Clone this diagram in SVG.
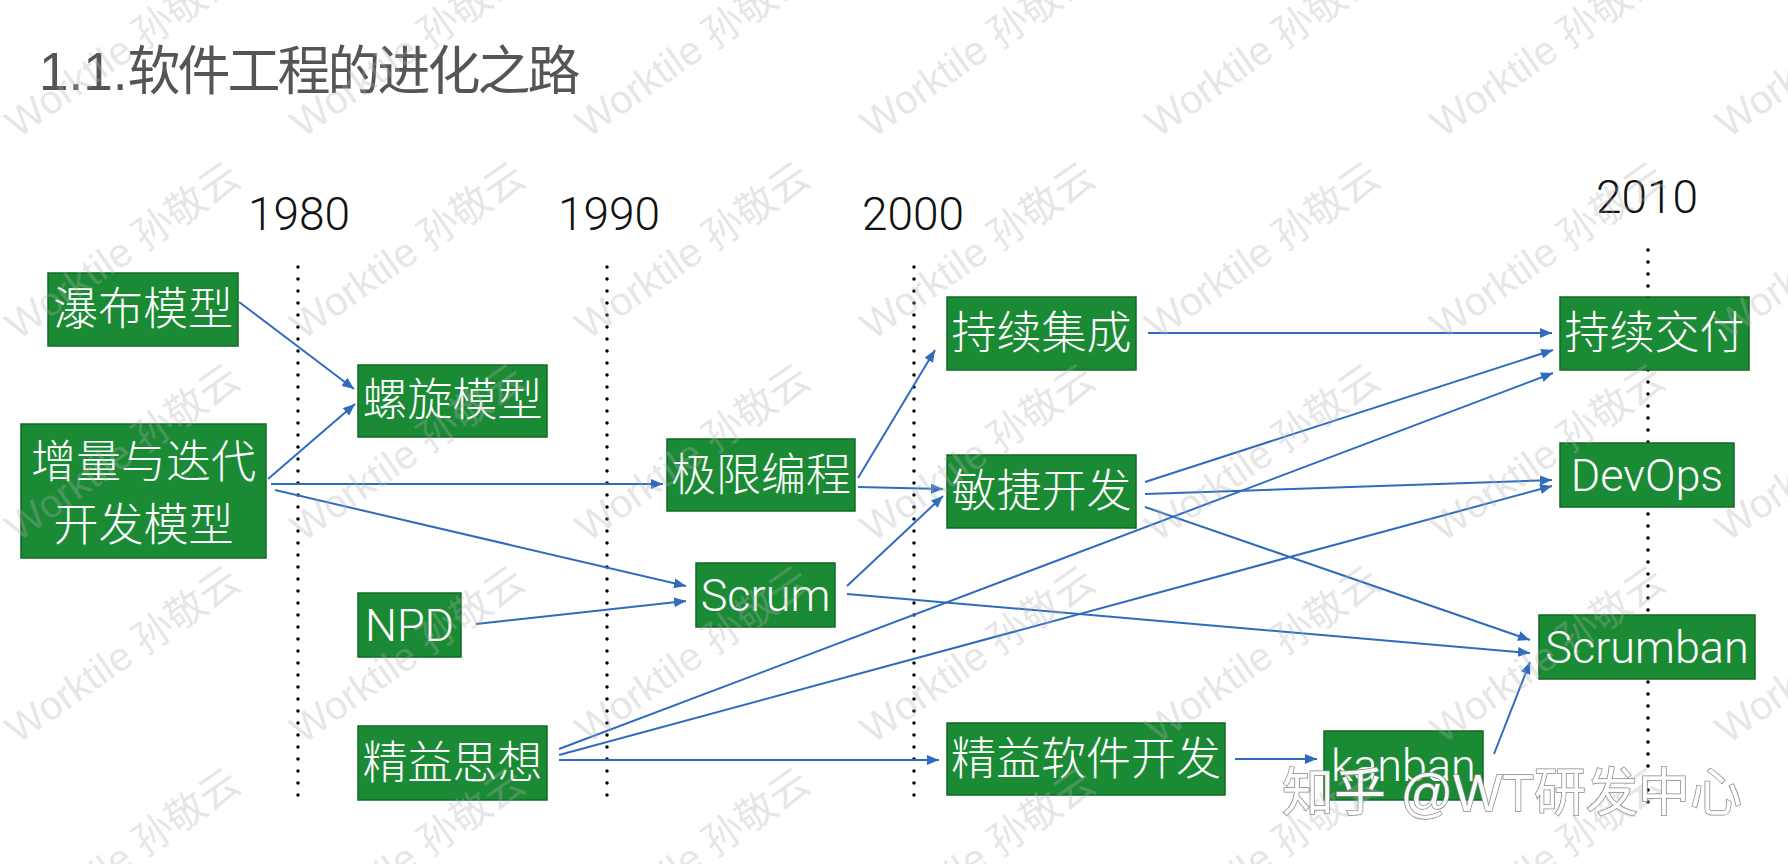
<svg xmlns="http://www.w3.org/2000/svg" width="1788" height="864" viewBox="0 0 1788 864">
<style>
.title{font-family:"Liberation Sans","Noto Sans CJK SC",sans-serif;font-weight:400;font-size:53px;fill:#555}
.year{font-family:Roboto,"Liberation Sans",sans-serif;font-weight:300;font-size:46px;fill:#111;text-anchor:middle}
.box{fill:#1b8a35;stroke:#116a25;stroke-width:1.5}
.lbl{font-family:Roboto,"Noto Sans CJK SC",sans-serif;font-weight:300;font-size:45px;fill:#fff;text-anchor:middle}
.dot{stroke:#000;stroke-width:3.5;stroke-linecap:round;stroke-dasharray:0 12;fill:none}
.edge{stroke:#2f6cbf;stroke-width:2;fill:none;marker-end:url(#ah)}
.wm{font-family:"Liberation Sans","Noto Sans CJK SC",sans-serif;font-size:40px;fill:#b0b0b0;fill-opacity:0.32;text-anchor:end}
</style>
<defs>
<marker id="ah" viewBox="0 0 12 10" refX="12" refY="5" markerWidth="12" markerHeight="10" orient="auto" markerUnits="userSpaceOnUse">
<path d="M0,0 L12,5 L0,10 z" fill="#2f6cbf"/>
</marker>
</defs>
<rect width="1788" height="864" fill="#fff"/>
<text class="title" x="39" y="90">1.1.<tspan letter-spacing="-3">软件工程的进化之路</tspan></text>
<g id="timeline">
<text class="year" x="299" y="230">1980</text>
<text class="year" x="609" y="230">1990</text>
<text class="year" x="913" y="230">2000</text>
<text class="year" x="1647" y="213">2010</text>
<line class="dot" x1="298" y1="267" x2="298" y2="800"/>
<line class="dot" x1="607" y1="267" x2="607" y2="800"/>
<line class="dot" x1="914" y1="267" x2="914" y2="800"/>
<line class="dot" x1="1648" y1="250" x2="1648" y2="812"/>
</g>
<g id="connectors">
<line class="edge" x1="239" y1="302" x2="354" y2="389"/>
<line class="edge" x1="268" y1="479" x2="355" y2="404"/>
<line class="edge" x1="271" y1="484" x2="663" y2="484"/>
<line class="edge" x1="275" y1="490" x2="686" y2="586"/>
<line class="edge" x1="476" y1="624" x2="686" y2="601"/>
<line class="edge" x1="858" y1="478" x2="935" y2="350"/>
<line class="edge" x1="858" y1="487" x2="943" y2="489"/>
<line class="edge" x1="847" y1="586" x2="943" y2="496"/>
<line class="edge" x1="847" y1="594" x2="1530" y2="653"/>
<line class="edge" x1="1148" y1="333" x2="1552" y2="333"/>
<line class="edge" x1="1145" y1="482" x2="1553" y2="350"/>
<line class="edge" x1="1145" y1="494" x2="1552" y2="480"/>
<line class="edge" x1="1145" y1="507" x2="1530" y2="640"/>
<line class="edge" x1="559" y1="749" x2="1553" y2="373"/>
<line class="edge" x1="559" y1="755" x2="1552" y2="486"/>
<line class="edge" x1="559" y1="760" x2="939" y2="760"/>
<line class="edge" x1="1235" y1="759" x2="1317" y2="759"/>
<line class="edge" x1="1494" y1="754" x2="1530" y2="662"/>
</g>
<g id="n_waterfall"><rect class="box" x="48" y="273" width="190" height="73"/><text class="lbl" x="143" y="325">瀑布模型</text></g>
<g id="n_spiral"><rect class="box" x="358" y="365" width="189" height="72"/><text class="lbl" x="452.5" y="416">螺旋模型</text></g>
<g id="n_incremental"><rect class="box" x="21" y="424" width="245" height="134"/><text class="lbl" x="143.5" y="478">增量与迭代</text><text class="lbl" x="143.5" y="541">开发模型</text></g>
<g id="n_npd"><rect class="box" x="358" y="593" width="103" height="64"/><text class="lbl" x="409.5" y="641">NPD</text></g>
<g id="n_lean"><rect class="box" x="358" y="726" width="189" height="74"/><text class="lbl" x="452.5" y="779">精益思想</text></g>
<g id="n_xp"><rect class="box" x="667" y="439" width="188" height="72"/><text class="lbl" x="761" y="491">极限编程</text></g>
<g id="n_scrum"><rect class="box" x="696" y="563" width="139" height="64"/><text class="lbl" x="765.5" y="611">Scrum</text></g>
<g id="n_ci"><rect class="box" x="947" y="297" width="189" height="73"/><text class="lbl" x="1041.5" y="349">持续集成</text></g>
<g id="n_agile"><rect class="box" x="947" y="455" width="189" height="73"/><text class="lbl" x="1041.5" y="507">敏捷开发</text></g>
<g id="n_lsd"><rect class="box" x="947" y="723" width="278" height="72"/><text class="lbl" x="1086" y="775">精益软件开发</text></g>
<g id="n_kanban"><rect class="box" x="1324" y="731" width="159" height="69"/><text class="lbl" x="1403.5" y="781">kanban</text></g>
<g id="n_cd"><rect class="box" x="1560" y="297" width="189" height="73"/><text class="lbl" x="1654.5" y="349">持续交付</text></g>
<g id="n_devops"><rect class="box" x="1560" y="443" width="174" height="64"/><text class="lbl" x="1647" y="491">DevOps</text></g>
<g id="n_scrumban"><rect class="box" x="1539" y="615" width="216" height="64"/><text class="lbl" x="1647" y="663">Scrumban</text></g>
<g id="watermark" class="wm">
<text transform="translate(243,-19) rotate(-35)">Worktile 孙敬云</text>
<text transform="translate(528,-19) rotate(-35)">Worktile 孙敬云</text>
<text transform="translate(813,-19) rotate(-35)">Worktile 孙敬云</text>
<text transform="translate(1098,-19) rotate(-35)">Worktile 孙敬云</text>
<text transform="translate(1383,-19) rotate(-35)">Worktile 孙敬云</text>
<text transform="translate(1668,-19) rotate(-35)">Worktile 孙敬云</text>
<text transform="translate(1953,-19) rotate(-35)">Worktile 孙敬云</text>
<text transform="translate(243,183) rotate(-35)">Worktile 孙敬云</text>
<text transform="translate(528,183) rotate(-35)">Worktile 孙敬云</text>
<text transform="translate(813,183) rotate(-35)">Worktile 孙敬云</text>
<text transform="translate(1098,183) rotate(-35)">Worktile 孙敬云</text>
<text transform="translate(1383,183) rotate(-35)">Worktile 孙敬云</text>
<text transform="translate(1668,183) rotate(-35)">Worktile 孙敬云</text>
<text transform="translate(1953,183) rotate(-35)">Worktile 孙敬云</text>
<text transform="translate(243,385) rotate(-35)">Worktile 孙敬云</text>
<text transform="translate(528,385) rotate(-35)">Worktile 孙敬云</text>
<text transform="translate(813,385) rotate(-35)">Worktile 孙敬云</text>
<text transform="translate(1098,385) rotate(-35)">Worktile 孙敬云</text>
<text transform="translate(1383,385) rotate(-35)">Worktile 孙敬云</text>
<text transform="translate(1668,385) rotate(-35)">Worktile 孙敬云</text>
<text transform="translate(1953,385) rotate(-35)">Worktile 孙敬云</text>
<text transform="translate(243,587) rotate(-35)">Worktile 孙敬云</text>
<text transform="translate(528,587) rotate(-35)">Worktile 孙敬云</text>
<text transform="translate(813,587) rotate(-35)">Worktile 孙敬云</text>
<text transform="translate(1098,587) rotate(-35)">Worktile 孙敬云</text>
<text transform="translate(1383,587) rotate(-35)">Worktile 孙敬云</text>
<text transform="translate(1668,587) rotate(-35)">Worktile 孙敬云</text>
<text transform="translate(1953,587) rotate(-35)">Worktile 孙敬云</text>
<text transform="translate(243,789) rotate(-35)">Worktile 孙敬云</text>
<text transform="translate(528,789) rotate(-35)">Worktile 孙敬云</text>
<text transform="translate(813,789) rotate(-35)">Worktile 孙敬云</text>
<text transform="translate(1098,789) rotate(-35)">Worktile 孙敬云</text>
<text transform="translate(1383,789) rotate(-35)">Worktile 孙敬云</text>
<text transform="translate(1668,789) rotate(-35)">Worktile 孙敬云</text>
<text transform="translate(1953,789) rotate(-35)">Worktile 孙敬云</text>
</g>
<text id="zhihu" x="1282" y="811" font-family="'Liberation Sans','Noto Sans CJK SC',sans-serif" font-size="52" fill="#fff" stroke="#8a8a8a" stroke-width="1.5" paint-order="stroke" fill-opacity="0.95">知乎 @WT研发中心</text>
</svg>
